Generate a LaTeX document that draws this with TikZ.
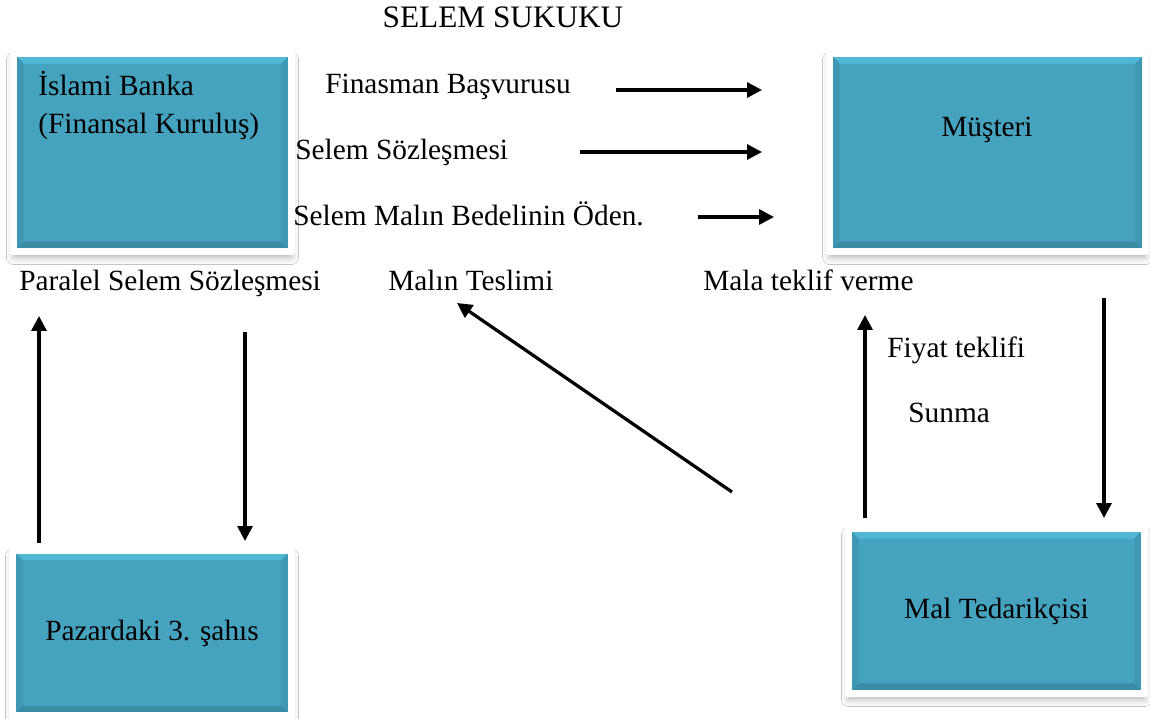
\documentclass[tikz,border=0pt]{standalone}
\usepackage{fontspec}
\setmainfont{Liberation Serif}
\usepackage{xcolor}
\usepackage{tikz}
\usetikzlibrary{arrows.meta,calc,shadows.blur}
\definecolor{skteal}{HTML}{46A3BF}
\definecolor{sktealtop}{HTML}{52B6D5}
\definecolor{sktealbot}{HTML}{3A8CA5}
\definecolor{sktealside}{HTML}{3F98B3}
\tikzset{
  party/.style={fill=skteal,draw=white,line width=0.15cm,line join=round,inner sep=0pt,
    blur shadow={shadow xshift=0pt,shadow yshift=-0.12cm,shadow blur radius=0.14cm,shadow opacity=30},
    font=\fontsize{16.7}{20}\selectfont,
    path picture={
      \coordinate (bvA) at ([shift={(0.07cm,-0.07cm)}]path picture bounding box.north west);
      \coordinate (bvB) at ([shift={(-0.07cm,-0.07cm)}]path picture bounding box.north east);
      \coordinate (bvC) at ([shift={(-0.07cm,0.07cm)}]path picture bounding box.south east);
      \coordinate (bvD) at ([shift={(0.07cm,0.07cm)}]path picture bounding box.south west);
      \fill[sktealtop] (bvA) -- (bvB) -- ([shift={(-0.13cm,-0.13cm)}]bvB) -- ([shift={(0.13cm,-0.13cm)}]bvA) -- cycle;
      \fill[sktealbot] (bvD) -- (bvC) -- ([shift={(-0.13cm,0.13cm)}]bvC) -- ([shift={(0.13cm,0.13cm)}]bvD) -- cycle;
      \fill[sktealside] (bvA) -- ([shift={(0.13cm,-0.13cm)}]bvA) -- ([shift={(0.13cm,0.13cm)}]bvD) -- (bvD) -- cycle;
      \fill[sktealside] (bvB) -- ([shift={(-0.13cm,-0.13cm)}]bvB) -- ([shift={(-0.13cm,0.13cm)}]bvC) -- (bvC) -- cycle;
    }},
  lbl/.style={inner sep=0pt,font=\fontsize{16.7}{21.6}\selectfont},
  flow/.style={-{Triangle[length=0.3cm,width=0.3cm]},line width=0.065cm,draw=black}
}

\begin{document}
\begin{tikzpicture}[x=0.02cm,y=-0.02cm]
  \useasboundingbox[fill=white] (0,0) rectangle (1150,719);
  \node[party,minimum width=5.56cm,minimum height=3.96cm] (bank) at (152.5,152.5) {};
  \node[party,minimum width=6.32cm,minimum height=3.96cm] (musteri) at (987.5,152.5) {};
  \node[party,minimum width=5.58cm,minimum height=3.32cm] (pazar) at (152,633) {Pazardaki 3. şahıs};
  \node[party,minimum width=5.92cm,minimum height=3.30cm] (tedarik) at (996.5,611) {Mal Tedarikçisi};
  \node[lbl,anchor=north west,align=left] (banktxt) at (38,71) {İslami Banka\\(Finansal Kuruluş)};
  \node[lbl,anchor=base] (musteritxt) at (987,137) {Müşteri};

  \node[lbl,anchor=base,font=\fontsize{17.8}{21}\selectfont] (title) at (503,28) {SELEM SUKUKU};
  \node[lbl,anchor=base west] (basvuru) at (325,94) {Finasman Başvurusu};
  \node[lbl,anchor=base west] (sozlesme) at (295,160) {Selem Sözleşmesi};
  \node[lbl,anchor=base west] (bedel) at (293,226) {Selem Malın Bedelinin Öden.};
  \node[lbl,anchor=base west] (paralel) at (19,291) {Paralel Selem Sözleşmesi};
  \node[lbl,anchor=base west] (teslim) at (388,291) {Malın Teslimi};
  \node[lbl,anchor=base west] (teklif) at (703,291) {Mala teklif verme};
  \node[lbl,anchor=base west] (fiyat) at (887,358) {Fiyat teklifi};
  \node[lbl,anchor=base west] (sunma) at (908,423) {Sunma};

  \coordinate (b1) at (616,90);   \coordinate (m1) at (762,90);
  \coordinate (b2) at (580,152);  \coordinate (m2) at (762,152);
  \coordinate (b3) at (698,217);  \coordinate (m3) at (774,217);
  \coordinate (p1) at (39,543);   \coordinate (u1) at (39,316);
  \coordinate (u2) at (245,332);  \coordinate (p2) at (245,541);
  \coordinate (t1) at (865,518);  \coordinate (v1) at (865,315);
  \coordinate (v2) at (1104,298); \coordinate (t2) at (1104,518);
  \coordinate (t3) at (732,492);  \coordinate (d3) at (457,303);

  \draw[flow] (b1) -- (m1);
  \draw[flow] (b2) -- (m2);
  \draw[flow] (b3) -- (m3);
  \draw[flow] (p1) -- (u1);
  \draw[flow] (u2) -- (p2);
  \draw[flow] (t1) -- (v1);
  \draw[flow] (v2) -- (t2);
  \draw[flow] (t3) -- (d3);
\end{tikzpicture}
\end{document}
